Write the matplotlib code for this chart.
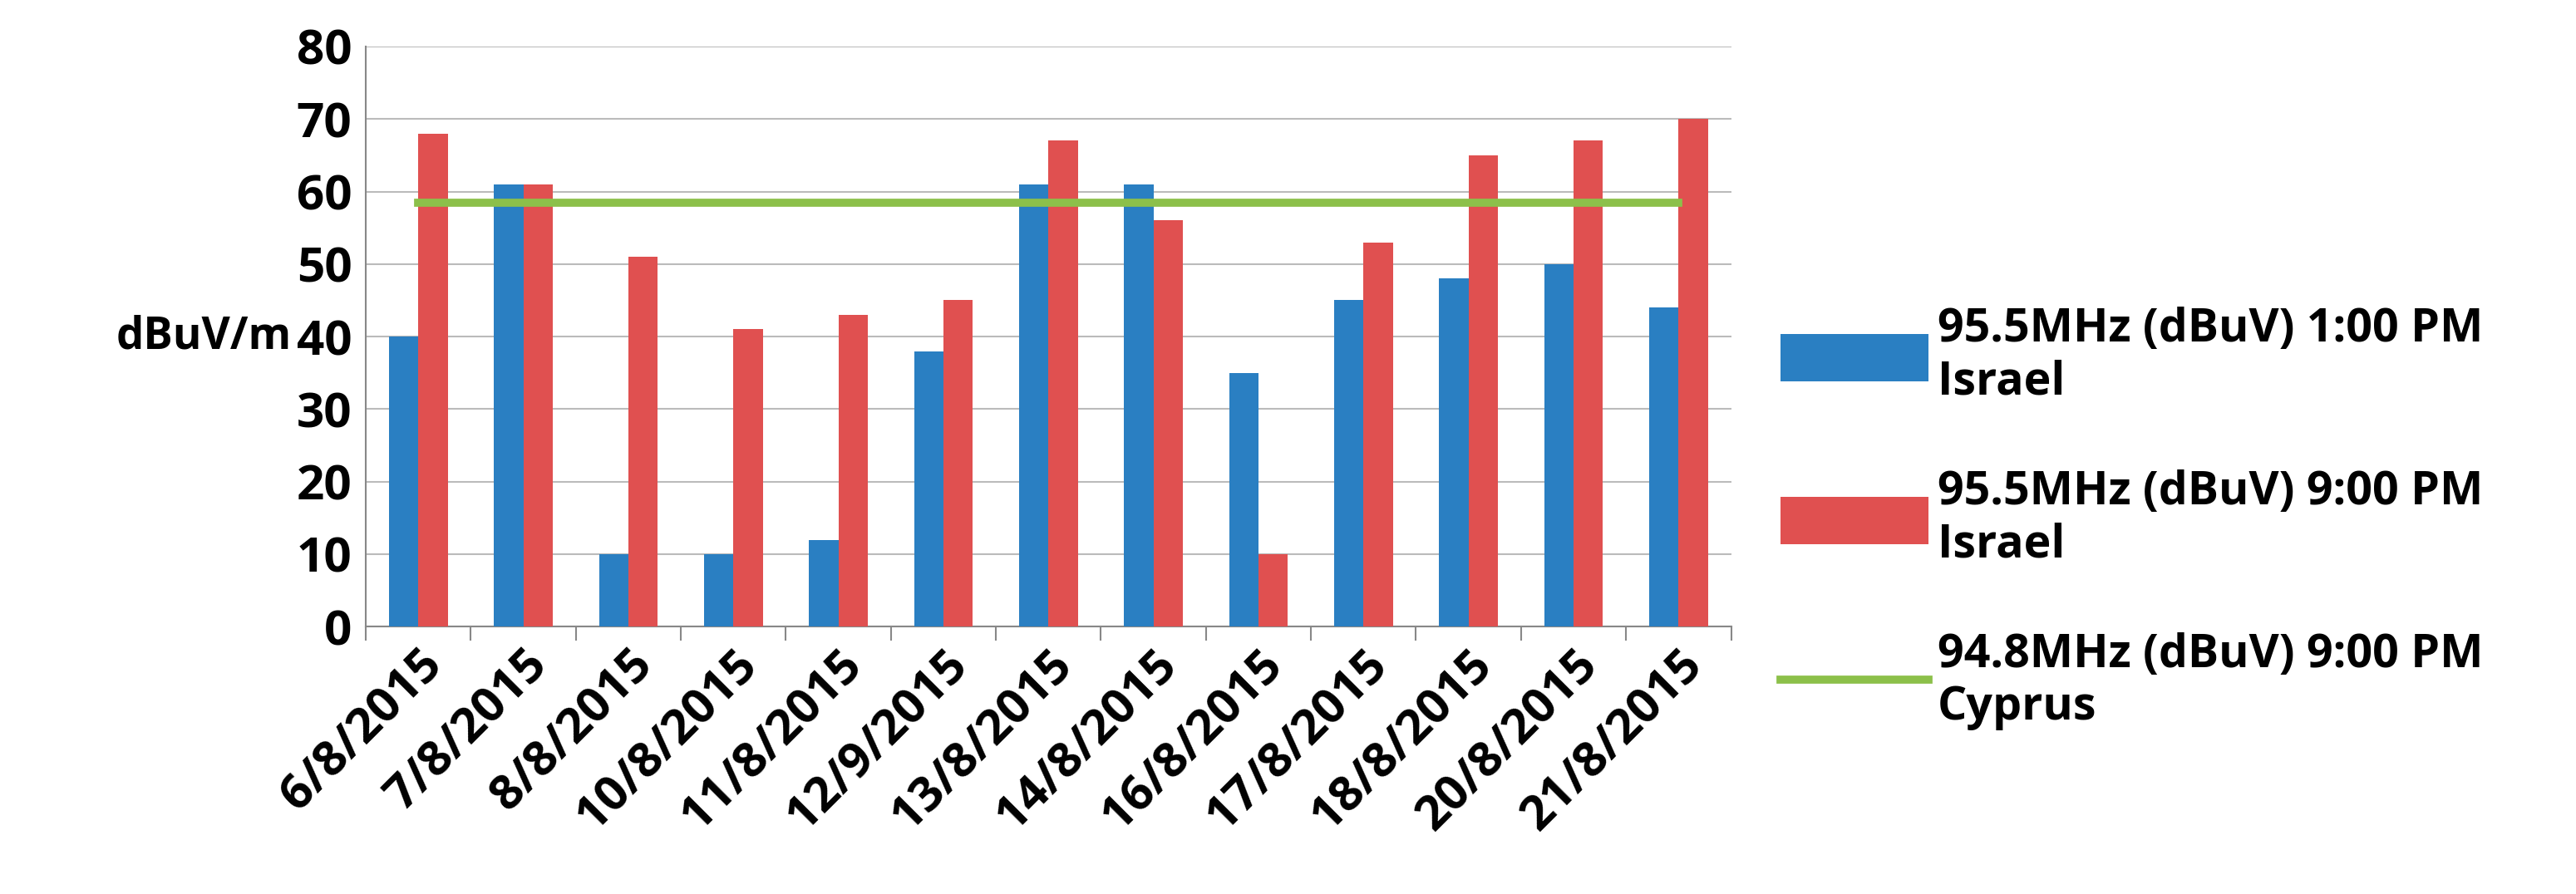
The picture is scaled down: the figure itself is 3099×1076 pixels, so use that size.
import matplotlib
matplotlib.use("Agg")
import matplotlib.pyplot as plt
import numpy as np

dates = ["6/8/2015","7/8/2015","8/8/2015","10/8/2015","11/8/2015","12/9/2015","13/8/2015",
         "14/8/2015","16/8/2015","17/8/2015","18/8/2015","20/8/2015","21/8/2015"]
blue = [40,61,10,10,12,38,61,61,35,45,48,50,44]
red = [68,61,51,41,43,45,67,56,10,53,65,67,70]
green = [58.5]*13
labels = ["95.5MHz (dBuV) 1:00 PM\nIsrael", "95.5MHz (dBuV) 9:00 PM\nIsrael", "94.8MHz (dBuV) 9:00 PM\nCyprus"]

plt.rcParams['font.family'] = ['Open Sans', 'DejaVu Sans']
plt.rcParams['font.weight'] = 'bold'
plt.rcParams['axes.labelweight'] = 'bold'
fig = plt.figure(figsize=(30.99, 10.76), dpi=100)
ax = fig.add_axes([0.142, 0.299, 0.53, 0.649])
x = np.arange(len(dates))
w = 0.28
b1 = ax.bar(x - w/2, blue, w, color='#2A7FC2', zorder=3, label=labels[0])
b2 = ax.bar(x + w/2, red, w, color='#E05050', zorder=3, label=labels[1])
l, = ax.plot(x, green, color='#8CC04A', lw=7, zorder=4, label=labels[2])
ax.set_xlim(-0.5, len(dates) - 0.5)
ax.set_ylim(0, 80)
ax.set_yticks(range(0, 81, 10))
ax.yaxis.grid(True, color='#BBBBBB', lw=1.5, zorder=0)
ax.set_xticks(x)
ax.set_xticklabels(dates, rotation=45, ha='right', rotation_mode='anchor')
ax.tick_params(axis='both', labelsize=42, length=0, pad=12)
for s in ['top', 'right']:
    ax.spines[s].set_visible(False)
ax.spines['left'].set_color('#888888')
ax.spines['bottom'].set_color('#888888')
ax.spines['left'].set_linewidth(1.5)
ax.spines['bottom'].set_linewidth(1.5)
ax.set_xticks(np.arange(-0.5, len(dates), 1), minor=True)
ax.tick_params(axis='x', which='minor', length=12, width=1.5, color='#888888')
ax.tick_params(axis='x', which='major', length=0)
ax.set_ylabel("dBuV/m", fontsize=38, rotation=0, labelpad=80, va='center')
fig.legend(handles=[b1, b2, l], labels=labels, loc='center left', bbox_to_anchor=(0.675, 0.42),
           frameon=False, fontsize=40, handlelength=3.2, handleheight=1.2, labelspacing=1.4,
           handletextpad=0.2)
fig.savefig("out.png", dpi=100)
